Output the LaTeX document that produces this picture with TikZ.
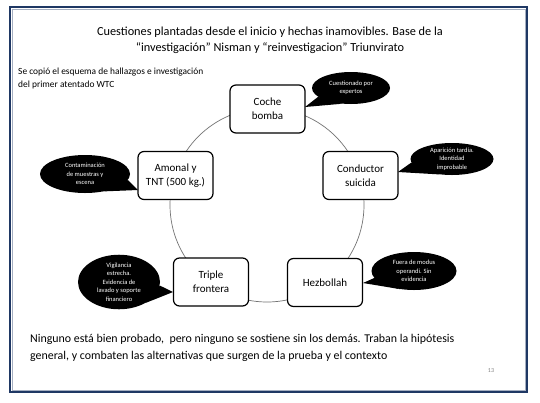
\documentclass[tikz,border=0pt]{standalone}
\usepackage{fontspec}
\setmainfont{Carlito}
\usetikzlibrary{shapes.geometric}
\definecolor{frameblue}{RGB}{31,56,100}

\tikzset{
  caja/.style={draw, fill=white, line width=1.2pt, rounded corners=6pt,
    minimum width=75pt, minimum height=48pt, align=center,
    font=\fontsize{11}{14}\selectfont},
  globo/.style={ellipse, fill=black, text=white, inner sep=0pt, align=center,
    font=\fontsize{6.5}{8.5}\selectfont}
}

\begin{document}
\begin{tikzpicture}[x=1pt, y=-1pt]
\useasboundingbox (0,0) rectangle (540,402);
\fill [white] (0,0) rectangle (540,402);
\draw [frameblue, line width=2pt] (10,7) rectangle (527,392);
\draw [frameblue!40, line width=0.6pt] (11.8,8.8) rectangle (525.2,390.2);

% titulo y notas
\node (titulo) [align=center, font=\fontsize{12.3}{16}\selectfont] at (270,40)
  {Cuestiones plantadas desde el inicio y hechas inamovibles. Base de la\\
   “investigación” Nisman y “reinvestigacion” Triunvirato};
\node (nota) [anchor=north west, align=left, inner sep=0pt,
  font=\fontsize{9.4}{13}\selectfont] at (18,68)
  {Se copió el esquema de hallazgos e investigación\\del primer atentado WTC};

% circulo
\draw [gray!90!black, line width=0.7pt] (267,205) circle (97);

% cajas
\node (coche)     [caja] at (267.5,109) {Coche\\bomba};
\node (conductor) [caja] at (360.5,175.5) {Conductor\\suicida};
\node (hezbollah) [caja] at (325,282.5) {Hezbollah};
\node (triple)    [caja] at (211,282) {Triple\\frontera};
\node (amonal)    [caja] at (175.5,175.5) {Amonal y\\TNT (500 kg.)};

% globos
\node (g1) [globo, minimum width=78pt, minimum height=32pt] at (351,88)
  {Cuestionado por\\expertos};
\coordinate (p1) at (305,107);
\fill (g1.195) -- (p1) -- (g1.240) -- cycle;

\node (g2) [globo, minimum width=83pt, minimum height=32pt] at (452,159)
  {Aparición tardía.\\Identidad\\improbable};
\coordinate (p2) at (398,172);
\fill (g2.185) -- (p2) -- (g2.230) -- cycle;

\node (g3) [globo, minimum width=85pt, minimum height=38pt] at (414,271)
  {Fuera de modus\\operandi. Sin\\evidencia};
\coordinate (p3) at (363,283);
\fill (g3.190) -- (p3) -- (g3.232) -- cycle;

\node (g4) [globo, minimum width=82pt, minimum height=47pt] at (119,282)
  {Vigilancia\\estrecha.\\Evidencia de\\lavado y soporte\\financiero};
\coordinate (p4) at (173,292);
\fill (g4.-5) -- (p4) -- (g4.-38) -- cycle;

\node (g5) [globo, minimum width=90pt, minimum height=38pt] at (85,174)
  {Contaminación\\de muestras y\\escena};
\coordinate (p5) at (138,190);
\fill (g5.-8) -- (p5) -- (g5.-42) -- cycle;

% texto final
\node (final) [anchor=west, align=left, inner sep=0pt,
  font=\fontsize{11.9}{17}\selectfont] at (30,348)
  {Ninguno está bien probado,\ \ pero ninguno se sostiene sin los demás. Traban la hipótesis\\
   general, y combaten las alternativas que surgen de la prueba y el contexto};
\node (pagina) [gray, font=\fontsize{6}{7}\selectfont] at (491,371) {13};
\end{tikzpicture}
\end{document}
